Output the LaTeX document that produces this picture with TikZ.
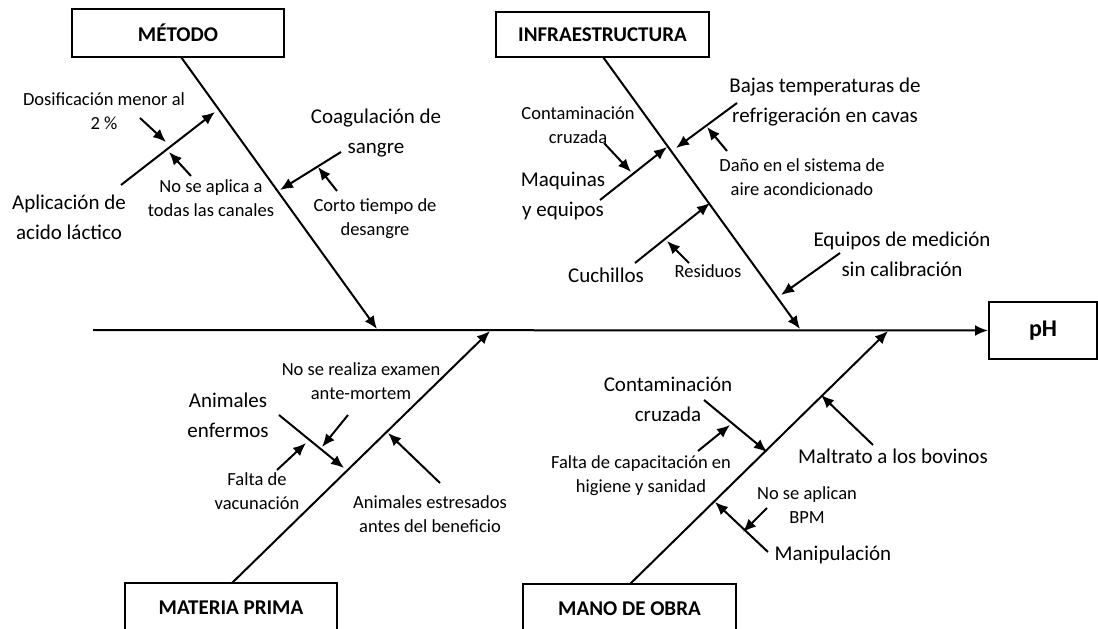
\documentclass[tikz,border=0pt]{standalone}
\usepackage{fontspec}
\setmainfont{Carlito}
\usetikzlibrary{arrows.meta}
\begin{document}
\begin{tikzpicture}[x=1pt,y=-1pt,
  bone/.style={line width=2pt,-{Latex[length=13pt,width=11pt]}},
  hbox/.style={draw,line width=2pt,minimum width=212pt,minimum height=48pt,font=\fontsize{21}{25}\selectfont\bfseries,inner sep=0pt},
  big/.style={align=center,font=\fontsize{21}{30}\selectfont,inner sep=0pt},
  small/.style={align=center,font=\fontsize{18.5}{24}\selectfont,inner sep=0pt}]
\useasboundingbox (0,0) rectangle (1098,629);
\fill[white] (0,0) rectangle (1098,629);
\clip (0,0) rectangle (1098,629);

% heads
\node[hbox] (metodo) at (178,33) {MÉTODO};
\node[hbox,minimum width=213pt,minimum height=45pt] (infra) at (602.5,34.5) {INFRAESTRUCTURA};
\node[hbox,minimum height=50pt] (mprima) at (231,608) {MATERIA PRIMA};
\node[hbox,minimum width=213pt,minimum height=50pt] (mobra) at (629.5,609) {MANO DE OBRA};
\node[hbox,minimum width=108pt,minimum height=57pt,font=\fontsize{24}{28}\selectfont\bfseries] (ph) at (1043,330.5) {pH};

% spine
\coordinate (s0) at (93,330);
\draw[bone] (s0) -- (ph.west);

% main bones
\coordinate (mA) at (181,57);   \coordinate (mT) at (377,329);
\coordinate (iA) at (603,57);   \coordinate (iT) at (800,329);
\coordinate (pA) at (232,583);  \coordinate (pT) at (490,331);
\coordinate (oA) at (630,584);  \coordinate (oT) at (888,331);
\draw[bone] (mA) -- (mT);
\draw[bone] (iA) -- (iT);
\draw[bone] (pA) -- (pT);
\draw[bone] (oA) -- (oT);

% sub-bone coordinates
\coordinate (m1s) at (121,185); \coordinate (m1t) at (215,112);
\coordinate (m1as) at (140,118); \coordinate (m1at) at (166,142);
\coordinate (m1bs) at (191,176); \coordinate (m1bt) at (169,152);
\coordinate (m2s) at (341,152); \coordinate (m2t) at (280,190);
\coordinate (m2as) at (337,191); \coordinate (m2at) at (318,167);
\coordinate (i1s) at (600,200); \coordinate (i1t) at (667,147);
\coordinate (i1as) at (604,143); \coordinate (i1at) at (631,172);
\coordinate (i2s) at (737,103); \coordinate (i2t) at (676,148);
\coordinate (i2as) at (727,151); \coordinate (i2at) at (707,127);
\coordinate (i3s) at (635,263); \coordinate (i3t) at (710,203);
\coordinate (i3as) at (689,263); \coordinate (i3at) at (667,241);
\coordinate (i4s) at (840,253); \coordinate (i4t) at (781,295);
\coordinate (p1s) at (279,415); \coordinate (p1t) at (344,468);
\coordinate (p1as) at (348,415); \coordinate (p1at) at (322,447);
\coordinate (p1bs) at (277,470); \coordinate (p1bt) at (306,443);
\coordinate (p2s) at (440,483); \coordinate (p2t) at (388,433);
\coordinate (o1s) at (704,400); \coordinate (o1t) at (767,452);
\coordinate (o1as) at (698,451); \coordinate (o1at) at (730,425);
\coordinate (o2s) at (873,445); \coordinate (o2t) at (821,395);
\coordinate (o3s) at (768,552); \coordinate (o3t) at (715,502);
\coordinate (o3as) at (767,508); \coordinate (o3at) at (743,532);

\foreach \a/\b in {m1s/m1t,m1as/m1at,m1bs/m1bt,m2s/m2t,m2as/m2at,
  i1s/i1t,i1as/i1at,i2s/i2t,i2as/i2at,i3s/i3t,i3as/i3at,i4s/i4t,
  p1s/p1t,p1as/p1at,p1bs/p1bt,p2s/p2t,
  o1s/o1t,o1as/o1at,o2s/o2t,o3s/o3t,o3as/o3at}
  \draw[bone] (\a) -- (\b);

% big labels
\node[big] (apl) at (69,217) {Aplicación de\\acido láctico};
\node[big] (coag) at (376,133) {Coagulación de\\sangre};
\node[big] (maq) at (563,196) {Maquinas\\y equipos};
\node[big] (cuch) at (606,275) {Cuchillos};
\node[big] (bajas) at (825,102) {Bajas temperaturas de\\refrigeración en cavas};
\node[big] (equip) at (902,254) {Equipos de medición\\sin calibración};
\node[big] (anen) at (228,415) {Animales\\enfermos};
\node[big] (conto) at (668,399) {Contaminación\\cruzada};
\node[big] (maltr) at (893,456) {Maltrato a los bovinos};
\node[big] (manip) at (833,555) {Manipulación};

% small labels
\node[small] (dosif) at (104,111) {Dosificación menor al\\2 \%};
\node[small] (noapl) at (211,198) {No se aplica a\\todas las canales};
\node[small] (corto) at (375,219) {Corto tiempo de\\desangre};
\node[small] (conti) at (578,125) {Contaminación\\cruzada};
\node[small] (resid) at (708,271) {Residuos};
\node[small] (dano) at (802,177) {Daño en el sistema de\\aire acondicionado};
\node[small] (nore) at (361,381) {No se realiza examen\\ante-mortem};
\node[small] (falvac) at (257,491) {Falta de\\vacunación};
\node[small] (estr) at (430,514) {Animales estresados\\antes del beneficio};
\node[small] (falcap) at (641,476) {Falta de capacitación en\\higiene y sanidad};
\node[small] (nobpm) at (807,505) {No se aplican\\BPM};
\end{tikzpicture}
\end{document}
